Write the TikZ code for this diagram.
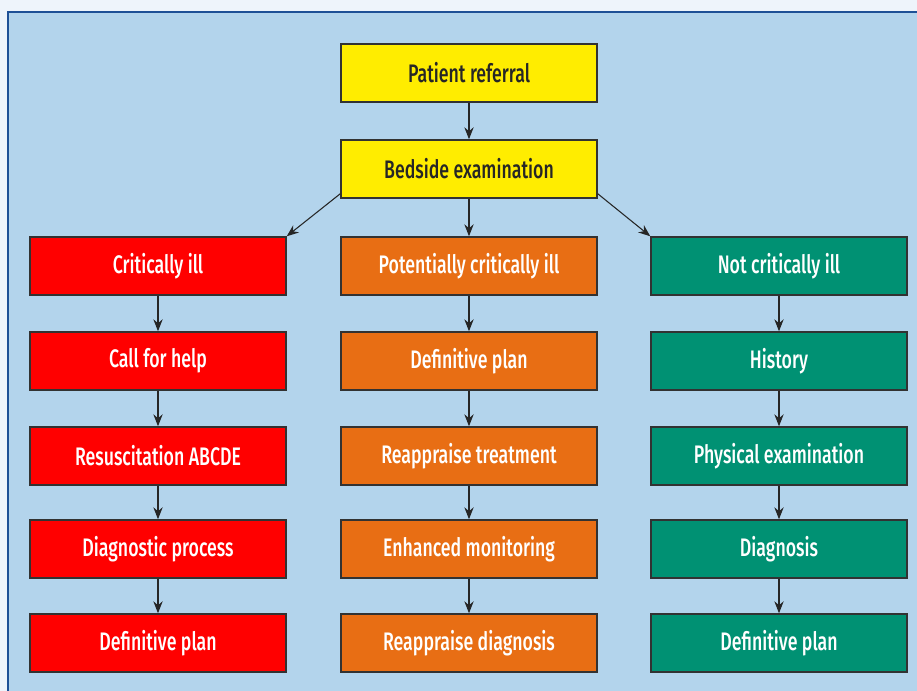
\documentclass[tikz,border=0pt]{standalone}
\usepackage{fontspec}
\setmainfont[FakeStretch=0.7, BoldFont={Fira Sans Medium}]{Fira Sans}
\usetikzlibrary{arrows.meta}

\definecolor{pagebg}{RGB}{238,244,251}
\definecolor{panelbg}{RGB}{179,212,236}
\definecolor{panelline}{RGB}{30,80,150}
\definecolor{boxline}{RGB}{50,50,50}
\definecolor{startyellow}{RGB}{255,237,0}
\definecolor{critred}{RGB}{255,0,0}
\definecolor{potorange}{RGB}{232,110,20}
\definecolor{notgreen}{RGB}{0,145,115}

\tikzset{every picture/.style={line width=0.75pt}}
\tikzset{
  flowbox/.style={draw=boxline, line width=1.1pt, minimum width=192pt, minimum height=43.5pt,
    inner sep=0pt, font=\fontsize{19}{22}\selectfont\bfseries},
  yellowbox/.style={flowbox, fill=startyellow, text=black!85},
  redbox/.style={flowbox, fill=critred, text=white},
  orangebox/.style={flowbox, fill=potorange, text=white},
  greenbox/.style={flowbox, fill=notgreen, text=white},
  flowarrow/.style={draw=black!85, line width=0.8pt, -{Stealth[length=9pt,width=7pt,inset=3pt]}}
}

\begin{document}
\begin{tikzpicture}[x=0.75pt,y=0.75pt,yscale=-1,xscale=1]
\useasboundingbox (0,0) rectangle (917,691);

%Background
\fill [pagebg] (0,0) rectangle (917,691);
\fill [panelbg] (8,12) rectangle (917,691);
\draw [panelline, line width=1.5pt] (8,691) -- (8,12) -- (917,12);

% Top boxes
\node [yellowbox] (referral) at (469,73) {Patient referral};
\node [yellowbox] (bedside) at (469,169) {Bedside examination};

% Left column
\node [redbox] (critical) at (158,266) {Critically ill};
\node [redbox] (help) at (158,361) {Call for help};
\node [redbox] (resus) at (158,456) {Resuscitation ABCDE};
\node [redbox] (diagproc) at (158,549) {Diagnostic process};
\node [redbox] (planleft) at (158,643) {Definitive plan};

% Middle column
\node [orangebox] (potential) at (469,266) {Potentially critically ill};
\node [orangebox] (planmid) at (469,361) {Definitive plan};
\node [orangebox] (treatment) at (469,456) {Reappraise treatment};
\node [orangebox] (monitoring) at (469,549) {Enhanced monitoring};
\node [orangebox] (reappdiag) at (469,643) {Reappraise diagnosis};

% Right column
\node [greenbox] (notcrit) at (779,266) {Not critically ill};
\node [greenbox] (history) at (779,361) {History};
\node [greenbox] (physical) at (779,456) {Physical examination};
\node [greenbox] (diagnosis) at (779,549) {Diagnosis};
\node [greenbox] (planright) at (779,643) {Definitive plan};

% Arrows
\draw [flowarrow] (referral) -- (bedside);
\draw [flowarrow] ([yshift=-3.75pt]bedside.south west) -- (critical.north east);
\draw [flowarrow] (bedside) -- (potential);
\draw [flowarrow] ([yshift=-3.75pt]bedside.south east) -- (notcrit.north west);

\draw [flowarrow] (critical) -- (help);
\draw [flowarrow] (help) -- (resus);
\draw [flowarrow] (resus) -- (diagproc);
\draw [flowarrow] (diagproc) -- (planleft);

\draw [flowarrow] (potential) -- (planmid);
\draw [flowarrow] (planmid) -- (treatment);
\draw [flowarrow] (treatment) -- (monitoring);
\draw [flowarrow] (monitoring) -- (reappdiag);

\draw [flowarrow] (notcrit) -- (history);
\draw [flowarrow] (history) -- (physical);
\draw [flowarrow] (physical) -- (diagnosis);
\draw [flowarrow] (diagnosis) -- (planright);

\end{tikzpicture}
\end{document}
